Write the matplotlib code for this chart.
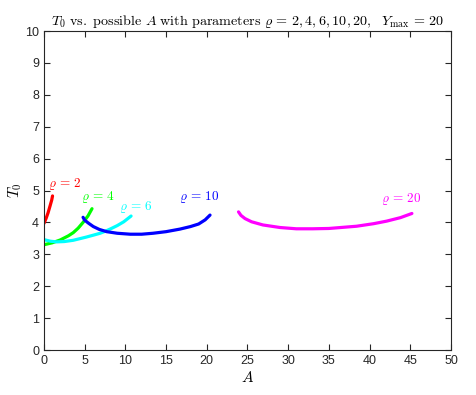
import numpy as np
import matplotlib
matplotlib.use("Agg")
import matplotlib.pyplot as plt

plt.rcParams['mathtext.fontset'] = 'cm'
plt.rcParams['font.family'] = ['Liberation Sans', 'DejaVu Sans']

# curves (A, T0)
rho_vals = [2, 4, 6, 10, 20]
colors = ['#ff0000', '#00ff00', '#00ffff', '#0000ff', '#ff00ff']

A_r2 = [0.0, 0.25, 0.5, 0.75, 0.95, 1.05]
T_r2 = [3.97, 4.12, 4.3, 4.52, 4.7, 4.83]

A_r4 = [0.0, 1.0, 2.0, 3.0, 3.6, 4.2, 4.8, 5.4, 5.9]
T_r4 = [3.3, 3.36, 3.45, 3.58, 3.68, 3.82, 4.0, 4.2, 4.43]

A_r6 = [0.0, 0.8, 1.56, 2.5, 3.6, 4.4, 5.2, 6.06, 6.9, 7.5, 8.2, 9.0, 9.8, 10.7]
T_r6 = [3.46, 3.41, 3.39, 3.4, 3.44, 3.49, 3.54, 3.6, 3.66, 3.72, 3.8, 3.9, 4.02, 4.2]

A_r10 = [4.8, 5.0, 5.5, 6.06, 6.8, 7.7, 9.0, 10.6, 12.0, 13.4, 15.0, 16.7, 18.0, 19.0, 19.8, 20.4]
T_r10 = [4.16, 4.07, 3.97, 3.87, 3.78, 3.71, 3.66, 3.63, 3.63, 3.66, 3.71, 3.79, 3.87, 3.95, 4.08, 4.23]

A_r20 = [23.9, 24.2, 24.7, 25.5, 26.9, 29.0, 31.0, 33.0, 35.0, 38.4, 40.5, 42.1, 43.8, 45.2]
T_r20 = [4.33, 4.22, 4.12, 4.02, 3.92, 3.84, 3.8, 3.8, 3.81, 3.88, 3.96, 4.04, 4.15, 4.28]

curves = [(A_r2, T_r2), (A_r4, T_r4), (A_r6, T_r6), (A_r10, T_r10), (A_r20, T_r20)]

# label anchor points (A, T0)
lab_A = [2.6, 6.6, 11.3, 19.1, 43.9]
lab_T = [5.2, 4.8, 4.48, 4.8, 4.74]

fig = plt.figure(figsize=(4.76, 3.95), dpi=100)
ax = fig.add_axes([0.0924, 0.1139, 0.855, 0.8076])

for (a, t), c in zip(curves, colors):
    ax.plot(a, t, color=c, linewidth=2.3, solid_capstyle='round', solid_joinstyle='round')

for r, x, y, c in zip(rho_vals, lab_A, lab_T, colors):
    ax.text(x, y, r'$\varrho\,=\,%d$' % r, color=c, ha='center', va='center', fontsize=9.5)

ax.set_xlim(0, 50)
ax.set_ylim(0, 10)
ax.set_xticks(np.arange(0, 51, 5))
ax.set_yticks(np.arange(0, 11, 1))
ax.tick_params(direction='in', top=True, right=True, labelsize=9, length=4,
               color='#262626', labelcolor='#262626')
for s in ax.spines.values():
    s.set_color('#262626')
    s.set_linewidth(0.8)

ax.set_xlabel(r'$A$', fontsize=11, labelpad=2)
ax.set_ylabel(r'$T_0$', fontsize=11, labelpad=1)
ax.set_title(r'$T_0\ \mathrm{vs.\ possible}\ A\ \mathrm{with\ parameters}\ \varrho\,=\,2,4,6,10,20,\ \ Y_{\max}\,=\,20$',
             fontsize=10.2, pad=4)

fig.savefig('out.png', dpi=100)
